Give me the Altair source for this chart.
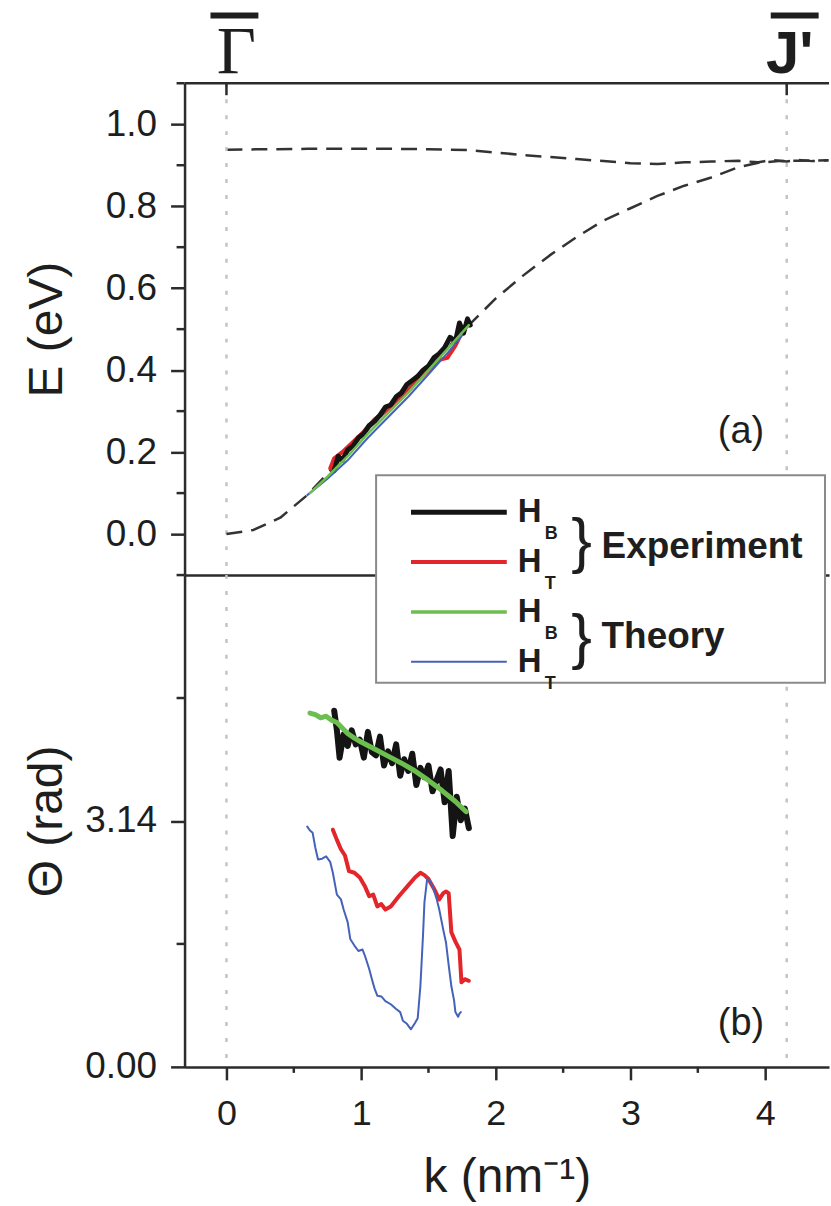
import altair as alt
import pandas as pd

# ---------------- data ----------------
# panel (a): dashed model bands
band_up_k = [0.0, 0.3, 0.6, 0.9, 1.2, 1.5, 1.8, 2.0, 2.2, 2.4, 2.6, 2.8, 3.0, 3.2, 3.4, 3.6, 3.8, 3.95, 4.05, 4.16, 4.25, 4.35, 4.47]
band_up_E = [0.938, 0.939, 0.940, 0.940, 0.940, 0.939, 0.937, 0.931, 0.925, 0.920, 0.915, 0.910, 0.905, 0.903, 0.907, 0.909, 0.911, 0.907, 0.913, 0.909, 0.913, 0.910, 0.912]
band_lo_k = [0.0, 0.2, 0.4, 0.6, 0.8, 1.0, 1.2, 1.4, 1.6, 1.8, 2.0, 2.2, 2.4, 2.6, 2.8, 3.0, 3.2, 3.4, 3.6, 3.8, 3.95, 4.1, 4.25, 4.47]
band_lo_E = [0.0, 0.01, 0.04, 0.095, 0.165, 0.24, 0.305, 0.37, 0.44, 0.51, 0.575, 0.63, 0.68, 0.725, 0.765, 0.795, 0.825, 0.85, 0.87, 0.895, 0.906, 0.91, 0.911, 0.912]

# panel (a): measured / computed dispersions
a_exp_HB_k = [0.80, 0.83, 0.86, 0.90, 0.94, 0.98, 1.02, 1.06, 1.10, 1.14, 1.18, 1.22, 1.26, 1.30, 1.34, 1.38, 1.42, 1.46, 1.50, 1.54, 1.58, 1.62, 1.66, 1.70, 1.73, 1.76, 1.79, 1.81]
a_exp_HB_E = [0.155, 0.19, 0.18, 0.205, 0.215, 0.235, 0.245, 0.265, 0.275, 0.29, 0.31, 0.315, 0.335, 0.345, 0.365, 0.375, 0.385, 0.40, 0.41, 0.43, 0.44, 0.455, 0.48, 0.47, 0.515, 0.49, 0.525, 0.51]
a_exp_HT_k = [0.77, 0.80, 0.86, 0.94, 1.02, 1.10, 1.18, 1.26, 1.34, 1.42, 1.50, 1.58, 1.64, 1.70, 1.76]
a_exp_HT_E = [0.16, 0.185, 0.20, 0.225, 0.25, 0.28, 0.30, 0.325, 0.35, 0.375, 0.40, 0.425, 0.43, 0.46, 0.50]
a_th_HB_k = [0.62, 0.75, 0.90, 1.05, 1.20, 1.35, 1.50, 1.65, 1.80]
a_th_HB_E = [0.10, 0.14, 0.19, 0.245, 0.295, 0.345, 0.40, 0.455, 0.51]
a_th_HT_k = [0.60, 0.75, 0.90, 1.05, 1.20, 1.35, 1.50, 1.65, 1.75]
a_th_HT_E = [0.095, 0.135, 0.18, 0.235, 0.285, 0.335, 0.39, 0.445, 0.485]

# panel (b): phase
b_exp_HB_k = [0.80, 0.82, 0.84, 0.87, 0.90, 0.93, 0.96, 0.99, 1.02, 1.05, 1.08, 1.11, 1.14, 1.17, 1.20, 1.23, 1.26, 1.29, 1.32, 1.35, 1.38, 1.41, 1.44, 1.47, 1.50, 1.53, 1.56, 1.59, 1.62, 1.65, 1.68, 1.71, 1.74, 1.77, 1.80]
b_exp_HB_T = [4.55, 4.30, 3.95, 4.25, 4.10, 4.30, 4.12, 4.18, 3.95, 4.28, 4.02, 3.98, 4.22, 3.85, 4.03, 3.88, 4.12, 3.72, 3.93, 3.78, 4.00, 3.60, 3.82, 3.70, 3.85, 3.52, 3.66, 3.80, 3.38, 3.78, 2.95, 3.45, 3.15, 3.30, 3.05]
b_exp_HT_k = [0.79, 0.82, 0.85, 0.88, 0.91, 0.95, 0.99, 1.03, 1.06, 1.09, 1.12, 1.15, 1.18, 1.22, 1.28, 1.34, 1.40, 1.44, 1.47, 1.50, 1.54, 1.58, 1.61, 1.63, 1.65, 1.67, 1.70, 1.73, 1.745, 1.77, 1.80]
b_exp_HT_T = [3.03, 2.90, 2.78, 2.70, 2.50, 2.48, 2.42, 2.30, 2.18, 2.20, 2.05, 2.08, 2.01, 2.05, 2.18, 2.30, 2.42, 2.48, 2.45, 2.40, 2.28, 2.14, 2.22, 2.24, 2.22, 1.72, 1.60, 1.50, 1.08, 1.12, 1.10]
b_th_HB_k = [0.62, 0.66, 0.70, 0.74, 0.78, 0.82, 0.86, 0.90, 0.95, 1.00, 1.10, 1.20, 1.30, 1.40, 1.50, 1.60, 1.70, 1.78]
b_th_HB_T = [4.52, 4.50, 4.46, 4.48, 4.43, 4.40, 4.33, 4.26, 4.20, 4.15, 4.06, 3.97, 3.88, 3.78, 3.66, 3.53, 3.39, 3.26]
b_th_HT_k = [0.60, 0.62, 0.64, 0.66, 0.68, 0.71, 0.74, 0.77, 0.79, 0.82, 0.85, 0.87, 0.90, 0.92, 0.95, 0.98, 1.01, 1.03, 1.06, 1.08, 1.10, 1.12, 1.15, 1.18, 1.22, 1.26, 1.29, 1.31, 1.34, 1.37, 1.40, 1.42, 1.44, 1.46, 1.47, 1.49, 1.51, 1.53, 1.56, 1.58, 1.61, 1.63, 1.65, 1.67, 1.69, 1.70, 1.72, 1.73, 1.74]
b_th_HT_T = [3.07, 3.02, 2.99, 2.80, 2.65, 2.66, 2.69, 2.62, 2.48, 2.20, 2.14, 2.01, 1.85, 1.63, 1.55, 1.48, 1.50, 1.41, 1.25, 1.12, 1.00, 0.91, 0.90, 0.84, 0.80, 0.74, 0.70, 0.59, 0.55, 0.48, 0.56, 0.62, 1.03, 1.70, 2.10, 2.40, 2.38, 2.31, 2.15, 2.01, 1.75, 1.59, 1.30, 1.03, 0.85, 0.70, 0.64, 0.68, 0.70]

# symmetry points and annotations
sym_k = [0.0, 4.16]
sym_text = ["\u0393", "J'"]
panel_a_label = {"k": [3.82], "v": [0.25], "t": ["(a)"]}
panel_b_label = {"k": [3.82], "v": [0.55], "t": ["(b)"]}

# ticks
E_ticks = [0.0, 0.2, 0.4, 0.6, 0.8, 1.0]
E_minor = [-0.1, 0.1, 0.3, 0.5, 0.7, 0.9, 1.1]
T_ticks = [0.0, 3.14159]
T_minor = [1.5708, 4.71239]
k_ticks = [0, 1, 2, 3, 4]
k_minor = [0.5, 1.5, 2.5, 3.5]

# legend
leg_main = ["H", "H", "H", "H"]
leg_sub = ["B", "T", "B", "T"]
leg_groups = ["Experiment", "Theory"]

# ---------------- style / layout ----------------
C_BLACK, C_RED, C_GREEN, C_BLUE = "#141414", "#e3262c", "#6cbf4e", "#4462b9"
AX = "#2b2b2b"
TXT = "#1e1e1e"
FONT = "Liberation Sans"
W, H = 646, 493
XMIN, XMAX = -0.3111, 4.474

xsc = alt.Scale(domain=[XMIN, XMAX], nice=False, zero=False)
ysa = alt.Scale(domain=[-0.1, 1.1], nice=False, zero=False)
ysb = alt.Scale(domain=[0, 6.28318], nice=False, zero=False)


def yaxis(values, fmt, title):
    return alt.Axis(values=values, format=fmt, title=title, grid=False,
                    domainColor=AX, domainWidth=2.5, tickColor=AX, tickWidth=2.5, tickSize=14,
                    labelFont=FONT, labelFontSize=37, labelColor=TXT, labelPadding=14,
                    titleFont=FONT, titleFontSize=48, titleFontWeight="normal", titleColor=TXT,
                    titleX=-123, titleBaseline="alphabetic")


def X(axis=None):
    if axis is None:
        return alt.X("k:Q", scale=xsc)
    return alt.X("k:Q", scale=xsc, axis=axis)


def Y(ysc, axis=None):
    if axis is None:
        return alt.Y("v:Q", scale=ysc)
    return alt.Y("v:Q", scale=ysc, axis=axis)


def line(k, v, ysc, color, width, dash=None, xaxis=None, yax=None):
    df = pd.DataFrame({"k": k, "v": v})
    kw = dict(color=color, strokeWidth=width, strokeJoin="round", strokeCap="round")
    if dash is not None:
        kw["strokeDash"] = dash
        kw["strokeCap"] = "butt"
    return alt.Chart(df).mark_line(**kw).encode(x=X(xaxis), y=Y(ysc, yax))


def vlines():
    return alt.Chart(pd.DataFrame({"k": sym_k})).mark_rule(
        color="#c4c4c4", strokeWidth=2.5, strokeDash=[4, 12]
    ).encode(x=X())


def yminor(vals, ysc):
    return alt.Chart(pd.DataFrame({"v": vals})).mark_rule(color=AX, strokeWidth=2.5).encode(
        y=Y(ysc), x=alt.value(0), x2=alt.value(-8))


one = pd.DataFrame({"z": [0]})

# ---------------- panel (a) ----------------
xaxis_a = alt.Axis(labels=False, ticks=False, title=None, grid=False,
                   domainColor=AX, domainWidth=2.5)
a_layers = [
    line(band_up_k, band_up_E, ysa, "#333333", 2.5, dash=[16, 9],
         xaxis=xaxis_a, yax=yaxis(E_ticks, ".1f", "E (eV)")),
    vlines(),
    alt.Chart(one).mark_rule(color=AX, strokeWidth=2.5).encode(
        x=alt.value(0), x2=alt.value(W), y=alt.value(0)),
    alt.Chart(pd.DataFrame({"k": sym_k})).mark_rule(color=AX, strokeWidth=2.5).encode(
        x=X(), y=alt.value(0), y2=alt.value(12)),
    yminor(E_minor, ysa),
    line(band_lo_k, band_lo_E, ysa, "#333333", 2.5, dash=[16, 9]),
    line(a_exp_HT_k, a_exp_HT_E, ysa, C_RED, 4),
    line(a_exp_HB_k, a_exp_HB_E, ysa, C_BLACK, 5),
    line(a_th_HT_k, a_th_HT_E, ysa, C_BLUE, 2),
    line(a_th_HB_k, a_th_HB_E, ysa, C_GREEN, 2.5),
    alt.Chart(pd.DataFrame(panel_a_label)).mark_text(font=FONT, fontSize=38, color=TXT).encode(
        x=X(), y=Y(ysa), text="t:N"),
    # symmetry point labels above the frame
    alt.Chart(pd.DataFrame({"k": sym_k})).mark_rule(
        color=TXT, strokeWidth=6, xOffset=-16, x2Offset=32).encode(
        x=X(), x2=alt.X2("k"), y=alt.value(-68)),
    alt.Chart(pd.DataFrame({"k": sym_k[:1], "t": sym_text[:1]})).mark_text(
        font="Liberation Serif", fontSize=68, color=TXT, baseline="alphabetic", dx=10).encode(
        x=X(), y=alt.value(-10), text="t:N"),
    alt.Chart(pd.DataFrame({"k": sym_k[1:], "t": sym_text[1:]})).mark_text(
        font=FONT, fontWeight="bold", fontSize=60, color=TXT, baseline="alphabetic", dx=3).encode(
        x=X(), y=alt.value(-10), text="t:N"),
]
panel_a = alt.layer(*a_layers).properties(width=W, height=H)

# ---------------- panel (b) ----------------
xaxis_b = alt.Axis(values=k_ticks, format="d", title="k (nm\u207b\u00b9)", grid=False,
                   domainColor=AX, domainWidth=2.5, tickColor=AX, tickWidth=2.5, tickSize=13,
                   labelFont=FONT, labelFontSize=36, labelColor=TXT, labelPadding=17,
                   titleFont=FONT, titleFontSize=48, titleFontWeight="normal", titleColor=TXT,
                   titlePadding=22)

LEG_Y = [-63, -13, 37, 87]
leg_colors = [C_BLACK, C_RED, C_GREEN, C_BLUE]
leg_widths = [5, 4, 3.5, 2]
BRACE_Y = [-33, 63]
GROUP_Y = [-28, 62]

legend_layers = [alt.Chart(one).mark_rect(fill="white", stroke="#8a8a8a", strokeWidth=2).encode(
    x=alt.value(192), x2=alt.value(642), y=alt.value(-100), y2=alt.value(108))]
for i in range(4):
    legend_layers.append(alt.Chart(one).mark_rule(color=leg_colors[i], strokeWidth=leg_widths[i]).encode(
        x=alt.value(227), x2=alt.value(323), y=alt.value(LEG_Y[i])))
    legend_layers.append(alt.Chart(pd.DataFrame({"t": [leg_main[i]]})).mark_text(
        font=FONT, fontWeight="bold", fontSize=33, color=TXT, align="left", baseline="middle").encode(
        x=alt.value(334), y=alt.value(LEG_Y[i]), text="t:N"))
    legend_layers.append(alt.Chart(pd.DataFrame({"t": [leg_sub[i]]})).mark_text(
        font=FONT, fontWeight="bold", fontSize=18, color=TXT, align="left", baseline="middle").encode(
        x=alt.value(361), y=alt.value(LEG_Y[i] + 22), text="t:N"))
for j in range(2):
    legend_layers.append(alt.Chart(pd.DataFrame({"t": ["}"]})).mark_text(
        font=FONT, fontSize=62, color=TXT, align="center", baseline="middle").encode(
        x=alt.value(398), y=alt.value(BRACE_Y[j]), text="t:N"))
    legend_layers.append(alt.Chart(pd.DataFrame({"t": [leg_groups[j]]})).mark_text(
        font=FONT, fontWeight="bold", fontSize=37, color=TXT, align="left", baseline="middle").encode(
        x=alt.value(418), y=alt.value(GROUP_Y[j]), text="t:N"))

b_layers = [
    line(b_exp_HB_k, b_exp_HB_T, ysb, C_BLACK, 6,
         xaxis=xaxis_b, yax=yaxis(T_ticks, ".2f", "\u0398 (rad)")),
    vlines(),
    yminor(T_minor, ysb),
    alt.Chart(pd.DataFrame({"k": k_minor})).mark_rule(color=AX, strokeWidth=2.5).encode(
        x=X(), y=alt.value(H), y2=alt.value(H + 6)),
    line(b_th_HB_k, b_th_HB_T, ysb, C_GREEN, 5),
    line(b_exp_HT_k, b_exp_HT_T, ysb, C_RED, 4),
    line(b_th_HT_k, b_th_HT_T, ysb, C_BLUE, 2),
    alt.Chart(pd.DataFrame(panel_b_label)).mark_text(font=FONT, fontSize=38, color=TXT).encode(
        x=X(), y=Y(ysb), text="t:N"),
] + legend_layers
panel_b = alt.layer(*b_layers).properties(width=W, height=H)

chart = alt.vconcat(panel_a, panel_b, spacing=0, bounds="flush").properties(
    padding={"left": 24, "top": 11, "right": 0, "bottom": 0}
).configure_view(strokeWidth=0)

chart.save("out.html", embed_options={"renderer": "svg", "actions": False})
